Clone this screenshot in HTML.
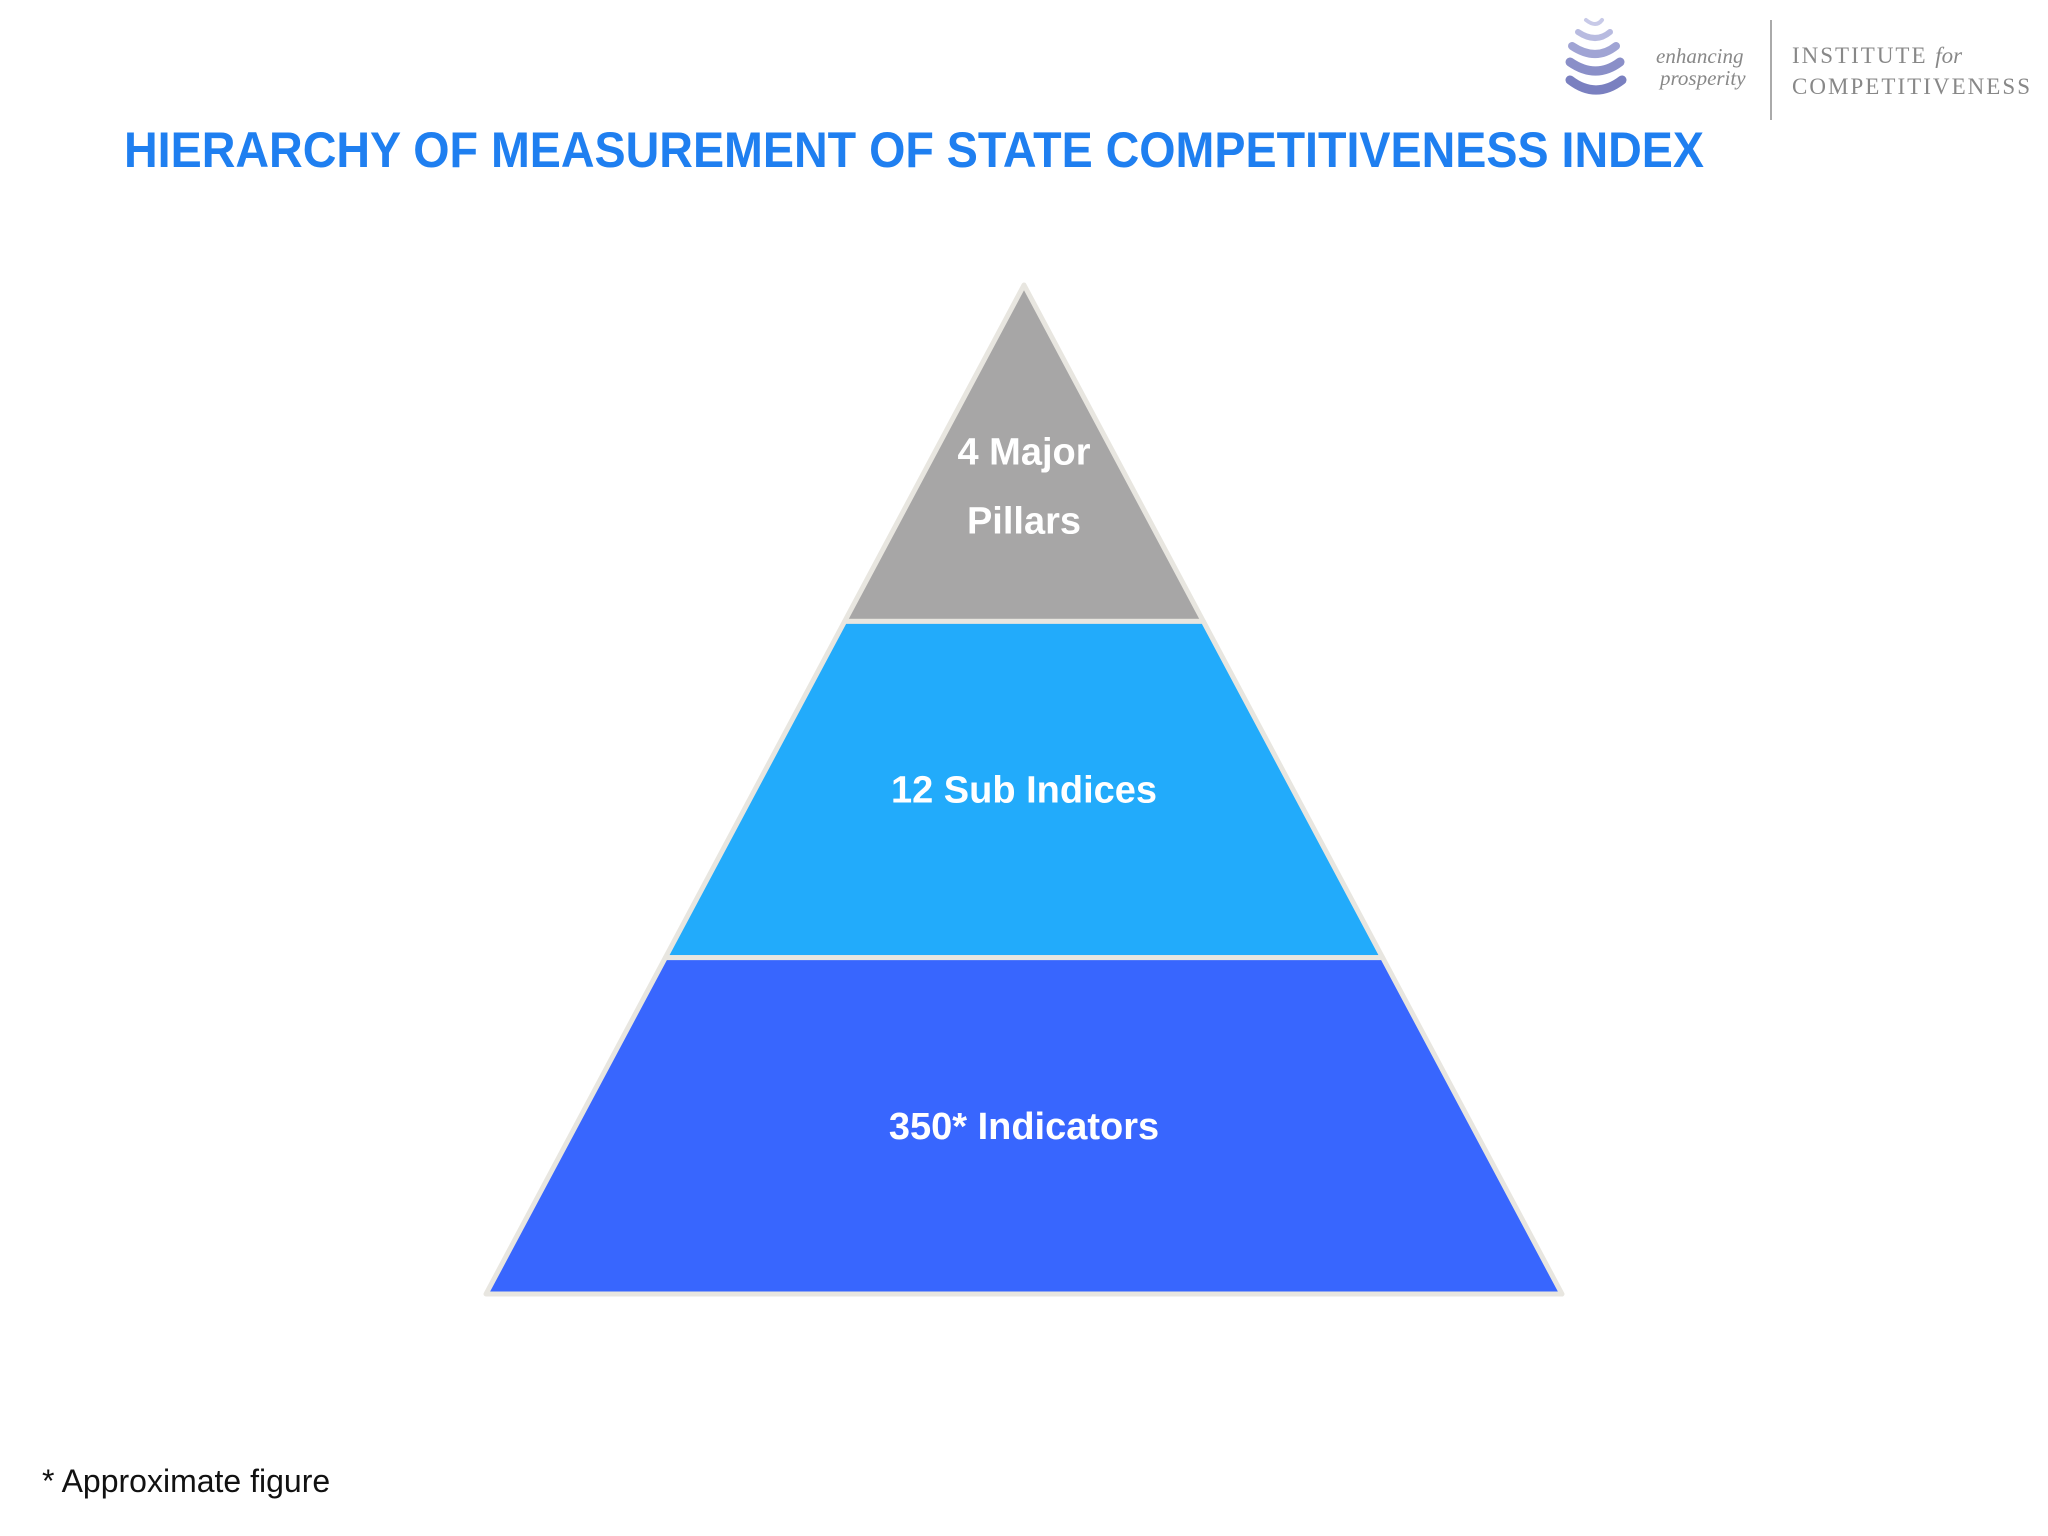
<!DOCTYPE html>
<html><head><meta charset="utf-8"><style>
html,body{margin:0;padding:0;background:#fff;}
svg{display:block;}
</style></head><body>
<svg id="c" width="2048" height="1536" viewBox="0 0 2048 1536" xmlns="http://www.w3.org/2000/svg">
<rect width="2048" height="1536" fill="#fff"/>
<g>
  <g fill="none" stroke-linecap="round">
    <path d="M1570 62 Q1596 80 1620 62" stroke="#8a8fc8" stroke-width="9"/>
    <path d="M1570 80 Q1596 100 1622 80" stroke="#7a80c0" stroke-width="9"/>
    <path d="M1572 46 Q1596 62 1616 46" stroke="#a0a4d4" stroke-width="8"/>
    <path d="M1578 32 Q1596 44 1610 32" stroke="#b8bbe0" stroke-width="6"/>
    <path d="M1586 20 Q1596 28 1602 20" stroke="#c8cae8" stroke-width="4"/>
  </g>
  <text x="1656" y="63" font-family="Liberation Serif, serif" font-style="italic" font-size="21" fill="#888">enhancing</text>
  <text x="1660" y="85" font-family="Liberation Serif, serif" font-style="italic" font-size="21" fill="#888">prosperity</text>
  <line x1="1771" y1="20" x2="1771" y2="120" stroke="#aaa" stroke-width="2"/>
  <text x="1792" y="63" font-family="Liberation Serif, serif" font-size="23" fill="#888" letter-spacing="2">INSTITUTE <tspan font-style="italic" letter-spacing="0">for</tspan></text>
  <text x="1792" y="94" font-family="Liberation Serif, serif" font-size="23" fill="#888" textLength="238">COMPETITIVENESS</text>
</g>
<text x="124" y="167" font-family="Liberation Sans, sans-serif" font-weight="bold" font-size="50" fill="#1f7ff0" textLength="1580" lengthAdjust="spacingAndGlyphs">HIERARCHY OF MEASUREMENT OF STATE COMPETITIVENESS INDEX</text>
<g id="pyr"></g>
<text x="42" y="1492" font-family="Liberation Sans, sans-serif" font-size="32" fill="#111">* Approximate figure</text>
</svg>
<script>
const levelLabels = [["4 Major","Pillars"],["12 Sub Indices"],["350* Indicators"]];
const levelCounts = [4, 12, 350];
const levelColors = ["#a7a6a6","#22abfb","#3866fe"];
const apexX = 1024, apexY = 285, baseY = 1294, halfBase = 538;
const g = document.getElementById('pyr');
const NS = 'http://www.w3.org/2000/svg';
const n = levelLabels.length;
const yAt = f => apexY + (baseY - apexY) * f;
const halfAt = f => halfBase * f;
for (let i = 0; i < n; i++) {
  const f0 = i / n, f1 = (i + 1) / n;
  const y0 = yAt(f0), y1 = yAt(f1);
  const pts = [[apexX - halfAt(f0), y0], [apexX + halfAt(f0), y0], [apexX + halfAt(f1), y1], [apexX - halfAt(f1), y1]];
  const p = document.createElementNS(NS, 'polygon');
  p.setAttribute('points', pts.map(q => q.join(',')).join(' '));
  p.setAttribute('fill', levelColors[i]);
  p.setAttribute('stroke', '#e8e6e0');
  p.setAttribute('stroke-width', '5');
  p.setAttribute('stroke-linejoin', 'round');
  
  
  g.appendChild(p);
  const lines = levelLabels[i];
  const baseCy = i === 0 ? 486 : (y0 + y1) / 2;
  lines.forEach((t, k) => {
    const tx = document.createElementNS(NS, 'text');
    tx.setAttribute('x', apexX);
    tx.setAttribute('y', baseCy + (k - (lines.length - 1) / 2) * 69 + 13);
    tx.setAttribute('text-anchor', 'middle');
    tx.setAttribute('font-family', 'Liberation Sans, sans-serif');
    tx.setAttribute('font-weight', 'bold');
    tx.setAttribute('font-size', '38');
    tx.setAttribute('fill', '#fff');
    tx.textContent = t;
    
    
    g.appendChild(tx);
  });
}
</script>
</body></html>
